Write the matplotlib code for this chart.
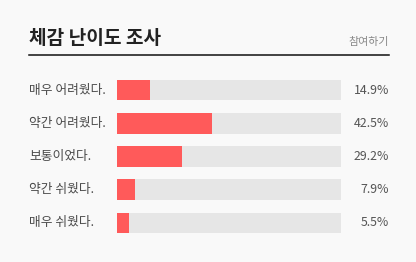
import matplotlib
matplotlib.use("Agg")
import matplotlib.pyplot as plt
import matplotlib.transforms as mtransforms

plt.rcParams['font.family'] = ['Noto Sans CJK KR', 'DejaVu Sans']

title = "체감 난이도 조사"
action = "참여하기"
categories = ["매우 어려웠다.", "약간 어려웠다.", "보통이었다.", "약간 쉬웠다.", "매우 쉬웠다."]
values = [14.9, 42.5, 29.2, 7.9, 5.5]

W, H = 416, 262
bg = "#f9f9f9"
fig = plt.figure(figsize=(W / 100, H / 100), dpi=100, facecolor=bg)

# bar axes
ax_left, ax_right = 117 / W, 341 / W
ax_top, ax_bot = 73.5, 239.5
ax = fig.add_axes([ax_left, 1 - ax_bot / H, ax_right - ax_left, (ax_bot - ax_top) / H])
ax.set_facecolor(bg)
ax.set_xlim(0, 100)
ax.set_ylim(len(categories) - 0.5, -0.5)
ax.axis("off")

ypos = list(range(len(categories)))
ax.barh(ypos, [100] * len(values), height=0.62, color="#e6e6e6", edgecolor="none")
ax.barh(ypos, values, height=0.62, color="#ff5a5a", edgecolor="none")

trans = mtransforms.blended_transform_factory(fig.transFigure, ax.transData)
for y, cat, v in zip(ypos, categories, values):
    fig.text(29 / W, 0, cat, transform=trans, fontsize=9.2, color="#4a4a4a",
             ha="left", va="center", position=(29 / W, y))
    fig.text(389 / W, 0, f"{v}%", transform=trans, fontsize=8.9, color="#555555",
             ha="right", va="center", position=(389 / W, y))

# title & header
fig.text(29 / W, 1 - 38 / H, title, fontsize=13.8, fontweight="bold", color="#222222",
         ha="left", va="center")
fig.text(389 / W, 1 - 42 / H, action, fontsize=7.9, color="#888888",
         ha="right", va="center")
fig.add_artist(plt.Line2D([29 / W, 389 / W], [1 - 55 / H, 1 - 55 / H],
                          transform=fig.transFigure, color="#111111", linewidth=1.1))

fig.savefig("out.png", dpi=100, facecolor=bg)
